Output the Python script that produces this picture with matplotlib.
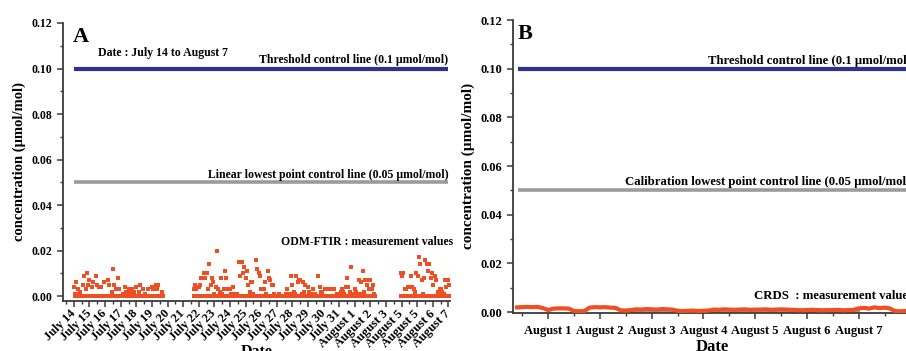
import numpy as np
import matplotlib
matplotlib.use("Agg")
import matplotlib.pyplot as plt
from matplotlib.ticker import MultipleLocator, FormatStrFormatter
import matplotlib.transforms as mtransforms

plt.rcParams['font.family'] = ['Liberation Serif', 'DejaVu Serif']
plt.rcParams['font.weight'] = 'bold'
plt.rcParams['axes.labelweight'] = 'bold'

# ---------------- data ----------------
# Panel A: ODM-FTIR values (x 0.001 umol/mol), one value every 2 hours;
# the readings taken in between (odd hours) were all 0.000
step_a = 1.0 / 12.0
seg1_start = 0.0
seg1_vals = [4, 1, 6, 3, 1, 2, 0, 5, 9, 3,
             10, 5, 7, 0, 4, 6, 0, 9, 5, 4,
             0, 4, 0, 6, 0, 0, 7, 5, 0, 2,
             12, 5, 3, 0, 8, 3, 0, 0, 1, 4,
             2, 0, 3, 2, 0, 3, 2, 0, 4, 0,
             2, 5, 0, 3, 0, 1, 0, 3, 0, 0,
             4, 3, 0, 5, 3, 5, 0, 0, 2]
seg2_start = 7.67
seg2_vals = [3, 5, 3, 0, 4, 5, 8, 0, 10, 8,
             10, 3, 14, 5, 8, 6, 1, 4, 20, 3,
             2, 8, 1, 3, 11, 8, 3, 0, 3, 1,
             4, 1, 0, 1, 0, 15, 9, 15, 10, 13,
             8, 11, 5, 2, 6, 6, 1, 0, 16, 12,
             10, 9, 3, 0, 3, 6, 1, 11, 8, 7,
             5, 5, 1, 0, 0, 0, 1, 0, 0, 0,
             0, 1, 3, 0, 1, 9, 5, 2, 1, 9,
             6, 7, 7, 1, 6, 2, 5, 0, 4, 2,
             0, 1, 3, 1, 0, 0, 9, 4, 2, 2,
             0, 3, 0, 0, 3, 3, 0, 0, 3, 0,
             1, 0, 1, 2, 3, 2, 1, 4, 8, 4,
             2, 13, 1, 0, 3, 2, 0, 7, 1, 6,
             11, 2, 7, 5, 7, 3, 7, 3, 5, 1]
seg3_start = 20.94
seg3_vals = [10, 9, 10, 3, 3, 0, 4, 0, 9, 4,
             3, 2, 10, 9, 17, 14, 7, 1, 8, 16,
             14, 11, 14, 8, 10, 5, 9, 7, 0, 2,
             3, 3, 2, 1, 7, 4, 7, 5]

a_tick_labels = ['July 14', 'July 15', 'July 16', 'July 17', 'July 18', 'July 19',
                 'July 20', 'July 21', 'July 22', 'July 23', 'July 24', 'July 25',
                 'July 26', 'July 27', 'July 28', 'July 29', 'July 30', 'July 31',
                 'August 1', 'August 2', 'August 3', 'August 5', 'August 5',
                 'August 6', 'August 7']

threshold = 0.1
lowest_point = 0.05

# Panel B: CRDS values (x 0.001 umol/mol), every 0.1 day from Aug 1 - 0.6 day
crds_start = -0.6
crds_step = 0.1
crds_vals = [1.9, 2.0, 2.1, 2.0, 2.1, 1.6,
             0.8,
             1.4, 1.5, 1.5, 1.4,
             0.4, 0.3, 0.4,
             1.8, 2.0, 1.9, 2.0, 1.8, 1.7,
             0.7, 0.6, 0.8,
             1.1, 1.0, 1.2, 1.1, 1.0, 1.2, 1.1, 1.0,
             0.5, 0.4, 0.5, 0.6, 0.4, 0.5, 0.6,
             1.0, 0.9, 1.1, 1.0, 0.9, 1.0, 1.1, 0.9, 1.0,
             1.0, 1.1, 0.9, 1.0, 1.1, 1.0, 0.9,
             0.8, 0.7, 0.8, 0.9, 0.8, 0.7, 0.8, 0.8, 0.9, 0.7, 0.8, 0.9,
             1.5, 1.7, 1.4, 1.9, 1.6, 1.8, 1.5,
             0.4, 0.3, 0.4, 0.4, 0.3, 0.4, 0.4, 0.3]
grey_start = 1.6
grey_step = 0.2
grey_vals = [0.4, 0.3, 0.5, 0.3, 0.4, 0.3, 0.4, 0.5, 0.3, 0.4, 0.3, 0.4,
             0.5, 0.3, 0.4, 0.3, 0.4, 0.3, 0.5, 0.4, 0.3, 0.4, 0.3]
b_tick_labels = ['August 1', 'August 2', 'August 3', 'August 4',
                 'August 5', 'August 6', 'August 7']

# ---------------- styling ----------------
ORANGE = '#F04E23'
BLUE = '#2E3192'
GREY = '#9B9B9B'
SPINE = '#3a3a3a'

fig = plt.figure(figsize=(9.06, 3.51), dpi=100)
axA = fig.add_axes([0.0695, 0.1433, 0.4272, 0.7912])
axB = fig.add_axes([0.5662, 0.109, 0.4404, 0.834])

for ax in (axA, axB):
    for s in ('top', 'right'):
        ax.spines[s].set_visible(False)
    for s in ('left', 'bottom'):
        ax.spines[s].set_color(SPINE)
        ax.spines[s].set_linewidth(1.3)
    ax.tick_params(which='major', direction='out', length=4, width=1.1, color=SPINE)
    ax.tick_params(which='minor', direction='out', length=2.5, width=1.0, color=SPINE)
    ax.yaxis.set_major_locator(MultipleLocator(0.02))
    ax.yaxis.set_minor_locator(MultipleLocator(0.01))
    ax.yaxis.set_major_formatter(FormatStrFormatter('%.2f'))
    ax.xaxis.set_minor_locator(MultipleLocator(0.5))

# ---------------- Panel A ----------------
for start, vals in ((seg1_start, seg1_vals), (seg2_start, seg2_vals), (seg3_start, seg3_vals)):
    t = start + step_a * np.arange(len(vals))
    axA.scatter(t, np.array(vals) * 0.001, s=6.5, marker='s', color=ORANGE,
                linewidths=0, zorder=3)
    # odd-hour readings (all zero)
    axA.scatter(t + step_a / 2, np.zeros(len(vals)), s=6.5, marker='s', color=ORANGE,
                linewidths=0, zorder=3)

day_a = np.arange(len(a_tick_labels))
axA.plot([day_a[0], day_a[-1]], [threshold, threshold], color=BLUE, lw=3, solid_capstyle='butt')
axA.plot([day_a[0], day_a[-1]], [lowest_point, lowest_point], color=GREY, lw=2.6, solid_capstyle='butt')

axA.set_xlim(-0.7, 24.1)
axA.set_ylim(-0.002, 0.12)
axA.set_xticks(day_a)
axA.set_xticklabels(a_tick_labels, rotation=45, ha='right', rotation_mode='anchor',
                    fontsize=9, va='center')
offset = mtransforms.ScaledTranslation(7 / 100, 0, fig.dpi_scale_trans)
for lab in axA.get_xticklabels():
    lab.set_transform(lab.get_transform() + offset)
axA.tick_params(axis='y', labelsize=8.5)
axA.tick_params(axis='x', pad=4)
axA.set_ylabel('concentration (µmol/mol)', fontsize=10.5, labelpad=4)
axA.set_xlabel('Date', fontsize=11.5, labelpad=-4)

axA.text(0.025, 0.985, 'A', transform=axA.transAxes, fontsize=16, fontweight='bold',
         ha='left', va='top')
axA.text(1.55, 0.1068, 'Date : July 14 to August 7', fontsize=8.5, ha='left', va='center')
axA.text(24.0, 0.1037, 'Threshold control line (0.1 µmol/mol)', fontsize=8.5,
         ha='right', va='center')
axA.text(24.0, 0.0532, 'Linear lowest point control line (0.05 µmol/mol)', fontsize=8.5,
         ha='right', va='center')
axA.text(24.3, 0.0239, 'ODM-FTIR : measurement values', fontsize=8.5,
         ha='right', va='center')

# ---------------- Panel B ----------------
tb = crds_start + crds_step * np.arange(len(crds_vals))
tg = grey_start + grey_step * np.arange(len(grey_vals))
axB.plot(tg, np.array(grey_vals) * 0.001, color=GREY, lw=2.0, zorder=2)
axB.plot(tb, np.array(crds_vals) * 0.001, color=ORANGE, lw=3.0, zorder=3)
axB.plot([tb[0] + 0.02, tb[-1]], [threshold, threshold], color=BLUE, lw=3, solid_capstyle='butt')
axB.plot([tb[0] + 0.02, tb[-1]], [lowest_point, lowest_point], color=GREY, lw=2.6,
         solid_capstyle='butt')

day_b = np.arange(len(b_tick_labels))
axB.set_xlim(-0.68, 7.03)
axB.set_ylim(-0.0003, 0.12)
axB.set_xticks(day_b)
axB.set_xticklabels(b_tick_labels, fontsize=9)
axB.tick_params(axis='y', labelsize=9)
axB.tick_params(axis='x', pad=5)
axB.set_ylabel('concentration (µmol/mol)', fontsize=11, labelpad=4)
axB.set_xlabel('Date', fontsize=12, labelpad=1)

axB.text(0.012, 0.985, 'B', transform=axB.transAxes, fontsize=16, fontweight='bold',
         ha='left', va='top')
axB.text(7.0, 0.1030, 'Threshold control line (0.1 µmol/mol)', fontsize=9.2,
         ha='right', va='center')
axB.text(7.0, 0.0535, 'Calibration lowest point control line (0.05 µmol/mol)', fontsize=9.2,
         ha='right', va='center')
axB.text(7.05, 0.0064, 'CRDS  : measurement values', fontsize=9.2,
         ha='right', va='center')

fig.savefig('out.png', dpi=100)
